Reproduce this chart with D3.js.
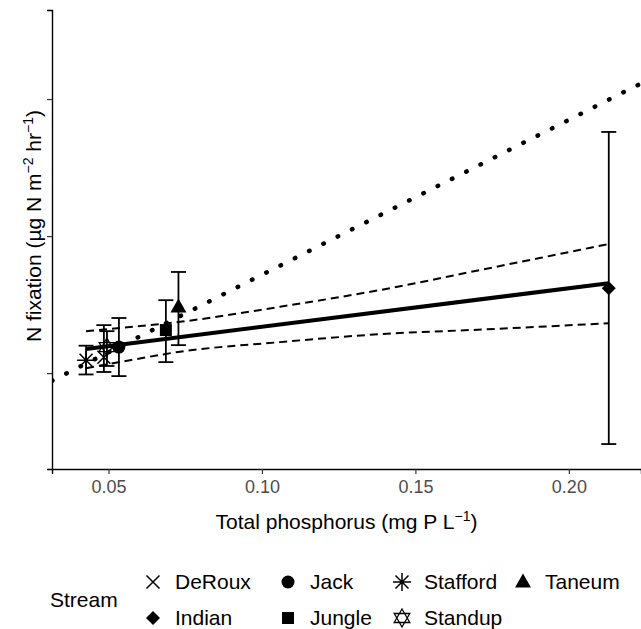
<!DOCTYPE html>
<html>
<head>
<meta charset="utf-8">
<script src="https://cdn.jsdelivr.net/npm/d3@7"></script>
<style>
  body { margin: 0; background: #fff; }
  svg { font-family: "Liberation Sans", Arial, sans-serif; }
</style>
</head>
<body>
<div id="chart"></div>
<script>
// datos
const streams = ["DeRoux", "Indian", "Jack", "Jungle", "Stafford", "Standup", "Taneum"];
const phosphorus = [0.0485, 0.2130, 0.0534, 0.0687, 0.0427, 0.0495, 0.0728];
const nfix = [5.8, 31.0, 9.5, 15.7, 4.7, 9.5, 24.1];
const nfixLow = [0.4, -25.9, -1.1, 4.0, -0.5, 2.6, 10.2];
const nfixHigh = [17.5, 88.0, 20.1, 26.6, 10.0, 15.3, 36.9];

// recta de regresion y banda de confianza
const fitX = [0.0427, 0.2130];
const fitY = [8.8, 32.8];
const bandX = [0.0427, 0.0570, 0.0733, 0.1059, 0.1384, 0.1759, 0.2130];
const bandUpper = [15.3, 16.8, 18.7, 24.2, 30.3, 38.7, 47.1];
const bandLower = [1.8, 4.7, 7.8, 11.3, 14.2, 16.1, 18.2];

// linea punteada
const refX = [0.0316, 0.2235];
const refY = [-2.8, 105.7];

const xTicks = [0.05, 0.10, 0.15, 0.20];
const yTicks = [0, 50, 100];
const xDomain = [0.0316, 0.2235];
const yDomain = [-35.0, 132.5];

const width = 641, height = 629;
const panelLeft = 52, panelRight = 641, panelTop = 10, panelBottom = 469;

const svg = d3.select('#chart').append('svg')
    .attr('width', width)
    .attr('height', height);

const x = d3.scaleLinear().domain(xDomain).range([panelLeft, panelRight]);
const y = d3.scaleLinear().domain(yDomain).range([panelBottom, panelTop]);

// ejes
const gx = svg.append('g')
    .attr('transform', `translate(0,${panelBottom})`)
    .call(d3.axisBottom(x).tickValues(xTicks).tickSizeOuter(0).tickSize(5).tickPadding(6).tickFormat(d3.format('.2f')));
const gy = svg.append('g')
    .attr('transform', `translate(${panelLeft},0)`)
    .call(d3.axisLeft(y).tickValues(yTicks).tickSizeOuter(0).tickSize(5).tickFormat(''));

[gx, gy].forEach(g => {
    g.select('.domain').attr('stroke', '#000').attr('stroke-width', 1.4);
    g.selectAll('.tick line').attr('stroke', '#333').attr('stroke-width', 1.2);
});
gx.selectAll('.tick text')
    .attr('fill', '#4d4d4d')
    .style('font-size', '18px');

// titulos de ejes
const xt = svg.append('text')
    .attr('x', (panelLeft + panelRight) / 2)
    .attr('y', 529)
    .attr('text-anchor', 'middle')
    .style('font-size', '21px');
xt.append('tspan').text('Total phosphorus (mg P L');
xt.append('tspan').attr('dy', -8).style('font-size', '14px').text('\u22121');
xt.append('tspan').attr('dy', 8).text(')');

const yt = svg.append('text')
    .attr('transform', 'translate(41,226) rotate(-90)')
    .attr('text-anchor', 'middle')
    .style('font-size', '21px');
yt.append('tspan').text('N fixation (\u00b5g N m');
yt.append('tspan').attr('dy', -8).style('font-size', '14px').text('\u22122');
yt.append('tspan').attr('dy', 8).text(' hr');
yt.append('tspan').attr('dy', -8).style('font-size', '14px').text('\u22121');
yt.append('tspan').attr('dy', 8).text(')');

// zona de dibujo recortada
svg.append('clipPath').attr('id', 'panel')
    .append('rect').attr('x', panelLeft).attr('y', panelTop)
    .attr('width', panelRight - panelLeft).attr('height', panelBottom - panelTop);
const plot = svg.append('g').attr('clip-path', 'url(#panel)');

const line = d3.line().x(d => x(d[0])).y(d => y(d[1]));
const curva = d3.line().x(d => x(d[0])).y(d => y(d[1])).curve(d3.curveMonotoneX);

plot.append('path')
    .datum(refX.map((v, i) => [v, refY[i]]))
    .attr('d', line)
    .attr('fill', 'none')
    .attr('stroke', '#000')
    .attr('stroke-width', 4.5)
    .attr('stroke-linecap', 'round')
    .attr('stroke-dasharray', '0.5 15.5');

[bandUpper, bandLower].forEach(b => {
    plot.append('path')
        .datum(bandX.map((v, i) => [v, b[i]]))
        .attr('d', curva)
        .attr('fill', 'none')
        .attr('stroke', '#000')
        .attr('stroke-width', 2)
        .attr('stroke-dasharray', '8 5');
});

plot.append('path')
    .datum(fitX.map((v, i) => [v, fitY[i]]))
    .attr('d', line)
    .attr('fill', 'none')
    .attr('stroke', '#000')
    .attr('stroke-width', 4);

// barras de error
const datos = streams.map((s, i) => ({
    stream: s, tp: phosphorus[i], n: nfix[i], lo: nfixLow[i], hi: nfixHigh[i]
}));
const cap = 7.5;
const eb = plot.append('g').attr('stroke', '#000').attr('stroke-width', 1.8);
datos.forEach(d => {
    const cx = x(d.tp);
    eb.append('line').attr('x1', cx).attr('x2', cx).attr('y1', y(d.lo)).attr('y2', y(d.hi));
    eb.append('line').attr('x1', cx - cap).attr('x2', cx + cap).attr('y1', y(d.lo)).attr('y2', y(d.lo));
    eb.append('line').attr('x1', cx - cap).attr('x2', cx + cap).attr('y1', y(d.hi)).attr('y2', y(d.hi));
});

// simbolos estilo R (pch)
function dibujarSimbolo(g, stream, cx, cy) {
    const s = g.append('g').attr('transform', `translate(${cx},${cy})`);
    if (stream === 'DeRoux') {
        const a = 6.5;
        s.append('path').attr('d', `M${-a},${-a}L${a},${a}M${-a},${a}L${a},${-a}`)
            .attr('stroke', '#000').attr('stroke-width', 1.5).attr('fill', 'none');
    } else if (stream === 'Indian') {
        const a = 7;
        s.append('path').attr('d', `M0,${-a}L${a},0L0,${a}L${-a},0Z`).attr('fill', '#000');
    } else if (stream === 'Jack') {
        s.append('circle').attr('r', 6.5).attr('fill', '#000');
    } else if (stream === 'Jungle') {
        s.append('rect').attr('x', -6).attr('y', -6).attr('width', 12).attr('height', 12).attr('fill', '#000');
    } else if (stream === 'Stafford') {
        const a = 6.5, b = 9;
        s.append('path').attr('d', `M${-a},${-a}L${a},${a}M${-a},${a}L${a},${-a}M${-b},0L${b},0M0,${-b}L0,${b}`)
            .attr('stroke', '#000').attr('stroke-width', 1.5).attr('fill', 'none');
    } else if (stream === 'Standup') {
        const r = 9, h = r * 0.5, w = r * 0.866;
        s.append('path').attr('d', `M0,${-r}L${w},${h}L${-w},${h}Z M0,${r}L${w},${-h}L${-w},${-h}Z`)
            .attr('stroke', '#000').attr('stroke-width', 1.3).attr('fill', 'none');
    } else if (stream === 'Taneum') {
        s.append('path').attr('d', 'M0,-8.5L8,5.5L-8,5.5Z').attr('fill', '#000');
    }
}

const pts = plot.append('g');
datos.forEach(d => dibujarSimbolo(pts, d.stream, x(d.tp), y(d.n)));

// leyenda
const leyenda = svg.append('g');
leyenda.append('text')
    .attr('x', 50).attr('y', 607)
    .style('font-size', '21px')
    .text('Stream');

const legendCols = [153, 288, 402, 523];
const legendRows = [582, 618];
// orden de la leyenda: por columnas
streams.forEach((s, i) => {
    const col = Math.floor(i / 2), row = i % 2;
    const sx = legendCols[col], sy = legendRows[row];
    dibujarSimbolo(leyenda, s, sx, sy);
    leyenda.append('text')
        .attr('x', sx + 22).attr('y', sy + 7)
        .style('font-size', '21px')
        .text(s);
});
</script>
</body>
</html>
